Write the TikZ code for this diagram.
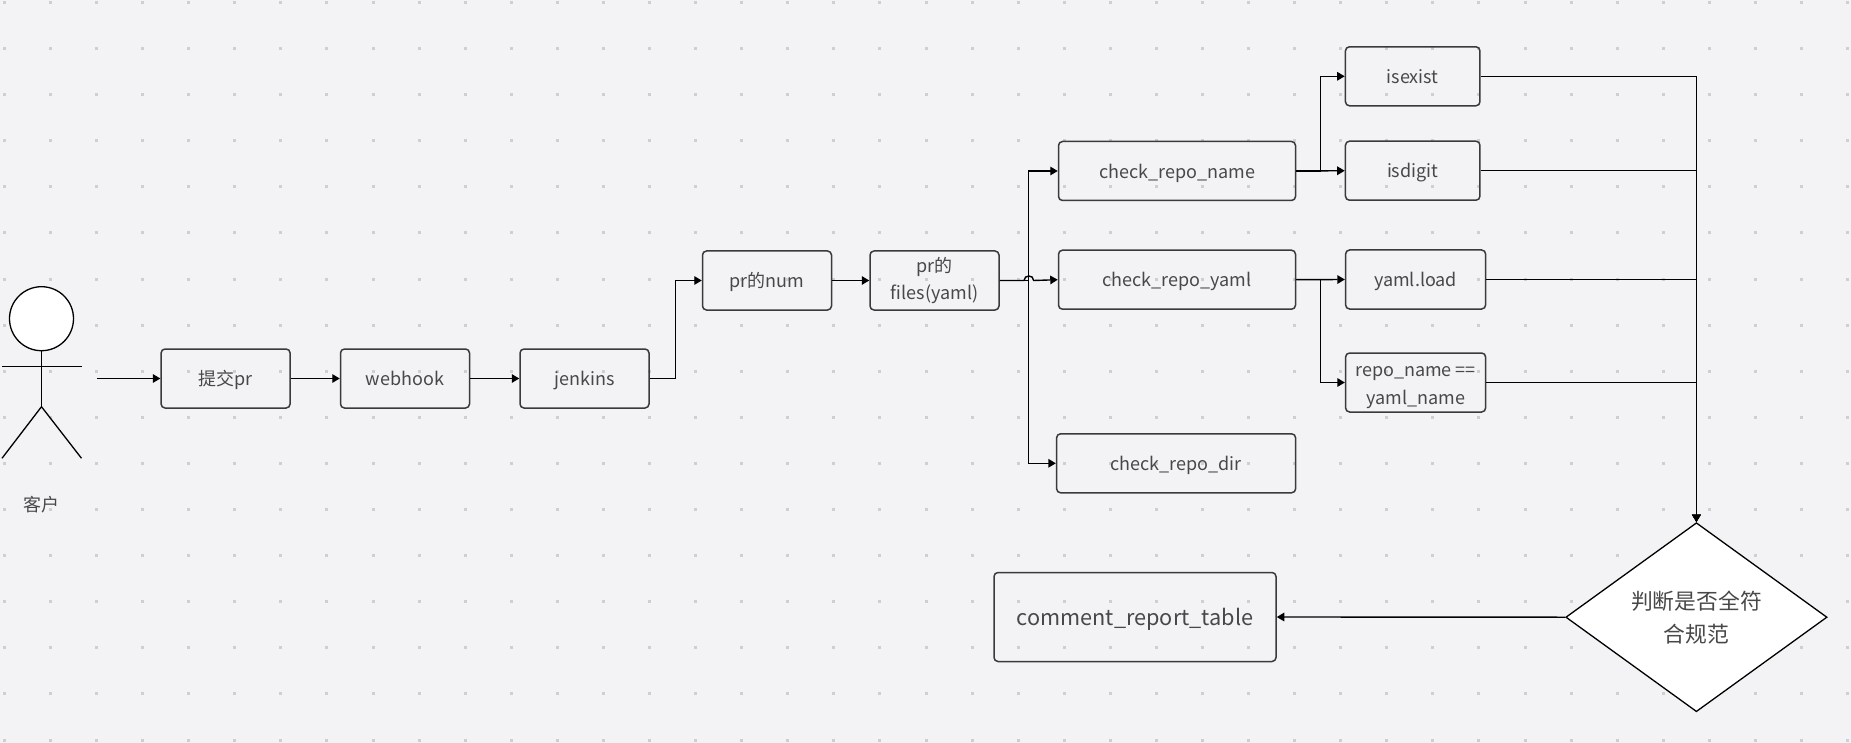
\documentclass[tikz,border=0pt]{standalone}
\usepackage{fontspec}
\setmainfont{Noto Sans CJK SC}
\usepackage{xcolor}
\usepackage{tikz}
\usetikzlibrary{arrows.meta,shapes.geometric}
\definecolor{canvasbg}{HTML}{F3F3F6}
\definecolor{gridpt}{HTML}{CFCFD1}
\definecolor{boxline}{HTML}{3A3A3A}
\definecolor{boxtext}{HTML}{484848}

\begin{document}
\begin{tikzpicture}[
				x = 1pt,
				y = -1pt,
				>= {Triangle[length=7.5pt,width=8.5pt]},
				every node/.style = {text = boxtext, font = \fontsize{18}{27.7}\selectfont},
				drop/.store in = \boxdrop,
				drop = 6.3,
				proc/.style = {execute at begin node = {\rule[-\boxdrop pt]{0pt}{27pt}}, execute at end node = {\rule[-\boxdrop pt]{0pt}{27pt}}, draw = boxline, line width = 1.5pt, rounded corners = 4pt, align = center, inner sep = 0pt, minimum height = 59pt},
				conn/.style = {->, line width = 1.4pt, black},
				figure/.style = {line width = 1.3pt, black}
			]

			% canvas and dot grid
			\fill[canvasbg] (0,0) rectangle (1851,743);
			\useasboundingbox (0,0) rectangle (1851,743);
			\foreach \i in {0,...,40}
				\foreach \j in {0,...,16}
					\fill[gridpt] ({4.4+46.08*\i-1.5},{2.4+46.1*\j-1.5}) rectangle ++(3,3);

			% customer
			\draw[figure,fill=white] (41.5,318.7) circle (32);
			\draw[figure] (41.5,350.7) -- (41.5,406.7);
			\draw[figure] (2,366.7) -- (81.5,366.7);
			\draw[figure] (2,458.3) -- (41.5,406.7) -- (81.5,458.3);
			\node (customer) at (41.7,505) {客户};
			\coordinate (start) at (97.3,378.5);

			% main chain
			\node[proc,minimum width=129pt] (submit) at (225.6,378.5) {提交pr};
			\node[proc,minimum width=129pt] (webhook) at (405,378.5) {webhook};
			\node[proc,minimum width=129pt] (jenkins) at (584.5,378.5) {jenkins};
			\node[proc,minimum width=129pt] (prnum) at (767,280.5) {pr的num};
			\node[proc,drop=0,minimum width=129pt] (prfiles) at (934.5,280.5) {pr的\\files(yaml)};

			% checks
			\node[proc,minimum width=237pt] (reponame) at (1177,171) {check\_repo\_name};
			\node[proc,minimum width=237pt] (repoyaml) at (1177,279.7) {check\_repo\_yaml};
			\node[proc,minimum width=239pt] (repodir) at (1176.1,463.3) {check\_repo\_dir};

			\node[proc,minimum width=134.5pt] (isexist) at (1412.7,76.3) {isexist};
			\node[proc,minimum width=134.5pt] (isdigit) at (1412.7,170.7) {isdigit};
			\node[proc,minimum width=140pt] (yamlload) at (1415.6,279.5) {yaml.load};
			\node[proc,minimum width=140pt] (samename) at (1415.6,382.5) {\smash{\raisebox{-11pt}{repo\_name ==}}\\\smash{\raisebox{-11pt}{yaml\_name}}};

			% decision and report
			\node[diamond,draw=black,line width=1.3pt,fill=white,inner sep=0pt,minimum width=261.3pt,minimum height=189pt,align=center,font=\fontsize{21.8}{33}\selectfont] (judge) at (1696.4,617.2) {判断是否全符\\合规范};
			\node[proc,drop=4.6,minimum width=282pt,minimum height=89pt,font=\fontsize{21.7}{27}\selectfont] (report) at (1135,617) {comment\_report\_table};

			% connectors
			\draw[conn] (start) -- (submit);
			\draw[conn] (submit) -- (webhook);
			\draw[conn] (webhook) -- (jenkins);
			\draw[conn] (jenkins.east) -- ++(26,0) |- (prnum.west);
			\draw[conn] (prnum) -- (prfiles);

			\draw[conn] (prfiles.east) -- ++(29,0) |- (reponame.west);
			\draw[conn] (prfiles.east) -- ++(28.5,0) |- (repodir.west);
			\draw[conn] (prfiles.east) -- ++(24.3,0) .. controls +(0,-6) and +(0,-6) .. ++(9.6,0) -- (repoyaml.west);

			\draw[conn] (reponame.east) -- ++(24.5,0) |- (isexist.west);
			\draw[conn] (reponame.east) -- (isdigit.west);
			\draw[conn] (repoyaml.east) -- (yamlload.west);
			\draw[conn] (repoyaml.east) -- ++(24.5,0) |- (samename.west);

			\draw[conn] (isexist.east) -| (judge.north);
			\draw[conn] (isdigit.east) -| (judge.north);
			\draw[conn] (yamlload.east) -| (judge.north);
			\draw[conn] (samename.east) -| (judge.north);
			\draw[conn] (judge.west) -- (report.east);

			\end{tikzpicture}
\end{document}
